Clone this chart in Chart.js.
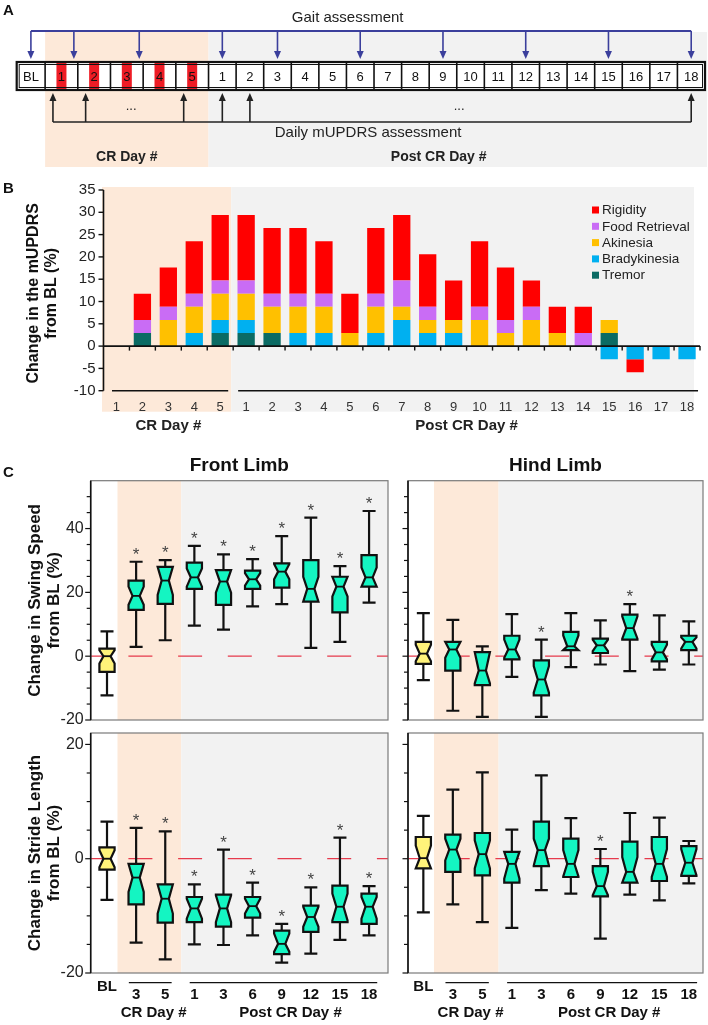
<!DOCTYPE html>
<html><head><meta charset="utf-8">
<script src="https://cdn.jsdelivr.net/npm/chart.js@4/dist/chart.umd.min.js"></script>
<style>
html,body{margin:0;padding:0;background:#fff;}
#wrap{position:relative;width:708px;height:1025px;overflow:hidden;background:#fff;}
canvas{position:absolute;}
</style></head><body>
<div id="wrap">
<canvas id="cA" width="708" height="170" style="left:0;top:0"></canvas>
<canvas id="cB" width="708" height="265" style="left:0;top:170px"></canvas>
<canvas id="cC1" width="395" height="290" style="left:0;top:435px"></canvas>
<canvas id="cC2" width="313" height="290" style="left:395px;top:435px"></canvas>
<canvas id="cC3" width="395" height="300" style="left:0;top:725px"></canvas>
<canvas id="cC4" width="313" height="300" style="left:395px;top:725px"></canvas>
</div>
<script>
// ================= DATA =================
// Panel A: schedule
const aCellLabels = ['BL','1','2','3','4','5','1','2','3','4','5','6','7','8','9','10','11','12','13','14','15','16','17','18'];
const aCrCells = [1,2,3,4,5];
const aGaitCells = [0,1,3,6,8,11,14,17,20,23];
const aDailyCells = [1,2,5,6,7,23];

// Panel B: stacked mUPDRS change (%)
const bDays = ['1','2','3','4','5','1','2','3','4','5','6','7','8','9','10','11','12','13','14','15','16','17','18'];
const bGroups = ['CR Day #','Post CR Day #'];
const bYTicks = [35,30,25,20,15,10,5,0,-5,-10];
const tremor       = [0,2.94,0,0,2.94, 2.94,2.94,0,0,0,0,0,0,0,0,0,0,0,0,2.94,0,0,0];
const bradykinesia = [0,0,0,2.94,2.94, 2.94,0,2.94,2.94,0,2.94,5.88,2.94,2.94,0,0,0,0,0,-2.94,-2.94,-2.94,-2.94];
const akinesia     = [0,0,5.88,5.88,5.88, 5.88,5.88,5.88,5.88,2.94,5.88,2.94,2.94,2.94,5.88,2.94,5.88,2.94,0,2.94,0,0,0];
const foodRetrieval= [0,2.94,2.94,2.94,2.94, 2.94,2.94,2.94,2.94,0,2.94,5.88,2.94,0,2.94,2.94,2.94,0,2.94,0,0,0,0];
const rigidity     = [0,5.88,8.82,11.76,14.71, 14.71,14.71,14.71,11.76,8.82,14.71,14.71,11.76,8.82,14.71,11.76,5.88,5.88,5.88,0,-2.94,0,0];

// Panel C: notched box plots, each box = [lowWhisker, q1, notchLo, median, notchHi, q3, highWhisker]
const cCategories = ['BL','3','5','1','3','6','9','12','15','18'];
const cGroups = ['CR Day #','Post CR Day #'];
const swingYLabels = [-20,0,20,40];
const strideYLabels = [-20,0,20];
const frontSwing = [
  [-12.3,-4.9,-2.3,0,1.9,2.4,7.8],
  [2.9,14.5,16.1,18.9,21.8,23.7,29.6],
  [5.0,16.4,19.2,23.7,28.0,28.0,30.1],
  [9.6,21.1,21.8,24.7,27.5,29.3,34.6],
  [8.3,16.1,19.9,23.4,27.0,27.0,31.9],
  [15.6,21.1,22.1,24.1,26.0,26.8,30.4],
  [16.3,21.5,24.1,26.5,28.9,29.1,37.6],
  [2.6,17.1,17.1,21.1,24.9,30.1,43.4],
  [4.5,13.7,18.7,21.8,24.9,24.9,28.2],
  [16.8,21.8,21.8,24.7,27.8,31.7,45.5]
];
const frontSwingSig = [0,1,1,1,1,1,1,1,1,1];
const hindSwing = [
  [-7.5,-2.4,-1.6,0.8,3.6,4.5,13.5],
  [-17.1,-4.5,-0.5,2.1,4.5,4.5,11.4],
  [-19.0,-9.1,-8.5,-4.5,1.3,1.3,3.1],
  [-6.5,-1.0,-0.5,2.1,5.2,6.4,13.2],
  [-19.0,-12.3,-11.4,-7.3,-3.1,-1.3,5.2],
  [-3.4,1.9,1.9,3.1,6.5,7.6,13.5],
  [-2.6,1.0,1.6,3.4,5.2,5.5,11.2],
  [-4.7,5.2,5.5,8.8,12.5,13.0,16.3],
  [-4.2,-1.6,-1.0,1.2,3.6,4.5,12.8],
  [-2.6,1.9,2.4,4.5,5.9,6.4,10.9]
];
const hindSwingSig = [0,0,0,0,1,0,0,1,0,0];
const frontStride = [
  [-7.2,-1.9,-1.5,0,1.5,2.0,6.5],
  [-14.7,-8.0,-5.8,-3.3,-0.9,-0.9,5.4],
  [-17.6,-11.2,-9.6,-7.0,-4.5,-4.5,4.8],
  [-15.0,-11.1,-10.5,-8.7,-7.0,-6.7,-4.5],
  [-15.1,-11.9,-11.1,-8.7,-6.4,-6.3,1.6],
  [-13.4,-10.3,-9.6,-8.3,-7.0,-6.7,-4.2],
  [-18.2,-16.7,-16.3,-14.9,-13.1,-12.6,-11.4],
  [-16.6,-12.8,-11.9,-10.2,-8.4,-8.2,-5.0],
  [-14.2,-11.1,-10.8,-8.4,-6.1,-4.7,3.7],
  [-13.4,-11.4,-10.5,-8.4,-6.7,-6.1,-4.8]
];
const frontStrideSig = [0,1,1,1,1,1,1,1,1,1];
const hindStride = [
  [-9.4,-1.7,-1.7,0.1,2.3,3.8,7.5],
  [-8.0,-2.3,-0.3,1.6,3.5,4.2,12.1],
  [-11.1,-2.9,-1.7,0.8,3.2,4.5,15.1],
  [-12.1,-4.2,-3.5,-0.9,1.2,1.2,5.1],
  [-5.5,-1.3,-1.2,1.5,3.5,6.5,14.6],
  [-6.1,-3.2,-3.1,-0.9,1.5,3.5,7.1],
  [-14.0,-6.6,-6.4,-4.8,-2.3,-1.3,1.7],
  [-6.3,-4.2,-4.2,-2.3,0.3,3.0,8.0],
  [-7.3,-3.9,-3.2,-0.9,1.7,3.8,7.2],
  [-4.3,-3.0,-2.9,-0.7,1.7,2.2,3.1]
];
const hindStrideSig = [0,0,0,0,0,0,1,0,0,0];

// ================= STYLE =================
const FONT = '"Liberation Sans", Arial, Helvetica, sans-serif';
const ORANGE = '#fde9d9', GRAY = '#f2f2f2';
const YELLOW = '#fff37a', TEAL = '#14f5c2';

function txt(ctx, s, x, y, size, opt={}) {
  ctx.save();
  ctx.font = (opt.bold ? 'bold ' : '') + size + 'px ' + FONT;
  ctx.fillStyle = opt.color || '#111';
  ctx.textAlign = opt.align || 'center';
  ctx.textBaseline = opt.base || 'middle';
  ctx.translate(x, y);
  if (opt.rot) ctx.rotate(opt.rot);
  ctx.fillText(s, 0, 0);
  ctx.restore();
}
function line(ctx, x1, y1, x2, y2, w, c) {
  ctx.save(); ctx.beginPath(); ctx.moveTo(x1, y1); ctx.lineTo(x2, y2);
  ctx.lineWidth = w; ctx.strokeStyle = c; ctx.stroke(); ctx.restore();
}
const baseOpts = (pad, xs, ys) => ({
  responsive: false, animation: false, events: [],
  layout: { padding: pad },
  plugins: { legend: { display: false }, tooltip: { enabled: false } },
  scales: { x: xs, y: ys }
});

// ================= PANEL A =================
const WBL = 1.03, WCR = 1.185;
function cellEdges(i) {
  if (i === 0) return [0, WBL];
  if (i <= 5) return [WBL + (i - 1) * WCR, WBL + i * WCR];
  const s = WBL + 5 * WCR + (i - 6);
  return [s, s + 1];
}
const A_TOTAL = cellEdges(aCellLabels.length - 1)[1];
function arrowX(i, kind) {
  const [l, r] = cellEdges(i);
  if (aCrCells.includes(i)) return l + (kind === 'gait' ? 0.88 : 0.24) * (r - l);
  return (l + r) / 2;
}
function arrow(ctx, x, y1, y2, color) {
  const dir = y2 > y1 ? 1 : -1;
  line(ctx, x, y1, x, y2 - dir * 6, 1.6, color);
  ctx.save(); ctx.fillStyle = color; ctx.beginPath();
  ctx.moveTo(x, y2); ctx.lineTo(x - 3.5, y2 - dir * 8); ctx.lineTo(x + 3.5, y2 - dir * 8); ctx.closePath(); ctx.fill(); ctx.restore();
}
const pA = { id: 'pA', afterDatasetsDraw(chart) {
  const ctx = chart.ctx, X = v => chart.scales.x.getPixelForValue(v), Y = v => chart.scales.y.getPixelForValue(v);
  const crL = cellEdges(1)[0], crR = cellEdges(5)[1];
  ctx.save();
  ctx.fillStyle = ORANGE; ctx.fillRect(X(crL), Y(32), X(crR) - X(crL), Y(167) - Y(32));
  ctx.fillStyle = GRAY; ctx.fillRect(X(crR), Y(32), X(A_TOTAL) + 2 - X(crR), Y(167) - Y(32));
  ctx.restore();
  const top = Y(62), bot = Y(90);
  ctx.save();
  ctx.fillStyle = '#ffffff';
  ctx.fillRect(X(0), top, X(A_TOTAL) - X(0), bot - top);
  ctx.restore();
  aCellLabels.forEach((lab, i) => {
    const [l, r] = cellEdges(i), L = X(l), R = X(r);
    if (aCrCells.includes(i)) {
      const c = (L + R) / 2;
      ctx.save(); ctx.fillStyle = '#ee1c25'; ctx.fillRect(c - 5, top, 10, bot - top); ctx.restore();
    }
    if (i > 0) line(ctx, L, top, L, bot, 1.6, '#111');
    txt(ctx, lab, (L + R) / 2, (top + bot) / 2 + 1, 13, { color: '#111' });
  });
  ctx.save(); ctx.strokeStyle = '#111'; ctx.lineWidth = 2.2;
  ctx.strokeRect(X(0), top, X(A_TOTAL) - X(0), bot - top);
  ctx.lineWidth = 1; ctx.strokeRect(X(0) + 2.5, top + 2.5, X(A_TOTAL) - X(0) - 5, bot - top - 5);
  ctx.restore();
  // gait arrows (blue)
  const blue = '#3b3f9c';
  const gx = aGaitCells.map(i => X(arrowX(i, 'gait')));
  line(ctx, gx[0], Y(31), gx[gx.length - 1], Y(31), 1.8, blue);
  gx.forEach(x => arrow(ctx, x, Y(31), Y(59), blue));
  // daily arrows (black)
  const dx = aDailyCells.map(i => X(arrowX(i, 'daily')));
  line(ctx, dx[0], Y(122), dx[dx.length - 1], Y(122), 1.6, '#222');
  dx.forEach(x => arrow(ctx, x, Y(122), Y(93), '#222'));
  txt(ctx, 'Gait assessment', X(12.0), Y(18), 15, { color: '#222' });
  txt(ctx, 'Daily mUPDRS assessment', X(12.74), Y(133), 15, { color: '#222' });
  txt(ctx, '...', X(4.15), Y(106), 13, { color: '#222' });
  txt(ctx, '...', X(16.04), Y(106), 13, { color: '#222' });
  txt(ctx, 'CR Day #', (X(crL) + X(crR)) / 2, Y(157), 14, { bold: true, color: '#222' });
  txt(ctx, 'Post CR Day #', X(15.3), Y(157), 14, { bold: true, color: '#222' });
  txt(ctx, 'A', 3, 11, 15, { bold: true, align: 'left' });
}};
new Chart(document.getElementById('cA'), {
  type: 'scatter',
  data: { datasets: [{ data: aCellLabels.map((l, i) => ({ x: (cellEdges(i)[0] + cellEdges(i)[1]) / 2, y: 76 })), pointRadius: 0, backgroundColor: 'rgba(0,0,0,0)', borderColor: 'rgba(0,0,0,0)' }] },
  options: baseOpts({ left: 16.7, right: 3, top: 0, bottom: 0 },
    { type: 'linear', display: false, min: 0, max: A_TOTAL },
    { type: 'linear', display: false, min: 0, max: 170, reverse: true }),
  plugins: [pA]
});

// ================= PANEL B =================
const pB = { id: 'pB',
  beforeDatasetsDraw(chart) {
    const ctx = chart.ctx, X = v => chart.scales.x.getPixelForValue(v), Y = v => chart.scales.y.getPixelForValue(v);
    const t = Y(35) - 3, b = Y(-10) + 21;
    ctx.save();
    ctx.fillStyle = ORANGE; ctx.fillRect(X(-0.5) - 1.5, t, X(4.5) - 2 - (X(-0.5) - 1.5), b - t);
    ctx.fillStyle = GRAY; ctx.fillRect(X(4.5) - 2, t, X(22.5) - 6 - (X(4.5) - 2), b - t);
    ctx.restore();
  },
  afterDatasetsDraw(chart) {
    const ctx = chart.ctx, X = v => chart.scales.x.getPixelForValue(v), Y = v => chart.scales.y.getPixelForValue(v);
    const ax = X(-0.5);
    line(ctx, ax, Y(35), ax, Y(-10), 1.6, '#111');
    bYTicks.forEach(v => { line(ctx, ax - 5, Y(v), ax, Y(v), 1.4, '#111');
      txt(ctx, String(v), ax - 8, Y(v), 15, { align: 'right', color: '#222' }); });
    line(ctx, ax, Y(0), X(22.5), Y(0), 1.8, '#111');
    for (let k = 0; k < bDays.length; k++) line(ctx, X(k + 0.5), Y(0), X(k + 0.5), Y(0) + 4.5, 1.4, '#111');
    bDays.forEach((d, i) => txt(ctx, d, X(i), Y(-10) + 17, 13, { color: '#333' }));
    line(ctx, ax + 8.5, Y(-10), X(4) + 8, Y(-10), 1.6, '#111');
    line(ctx, X(5) - 8, Y(-10), X(22) + 11, Y(-10), 1.6, '#111');
    txt(ctx, bGroups[0], X(2), Y(-10) + 35, 15, { bold: true, color: '#222' });
    txt(ctx, bGroups[1], X(13.5), Y(-10) + 35, 15, { bold: true, color: '#222' });
    txt(ctx, 'Change in the mUPDRS', 34, (Y(35) + Y(-10)) / 2 + 3, 16, { bold: true, rot: -Math.PI / 2 });
    txt(ctx, 'from BL (%)', 51.5, (Y(35) + Y(-10)) / 2 + 3, 16, { bold: true, rot: -Math.PI / 2 });
    txt(ctx, 'B', 3, 19, 15, { bold: true, align: 'left' });
    const ds = chart.data.datasets.slice().reverse();
    const lx = chart.chartArea.right - 108;
    ds.forEach((d, i) => {
      const ly = Y(35) + 20 + i * 16.3;
      ctx.save(); ctx.fillStyle = d.backgroundColor; ctx.fillRect(lx, ly - 3.5, 7, 7); ctx.restore();
      txt(ctx, d.label, lx + 10, ly + 0.5, 13.5, { align: 'left', color: '#222' });
    });
  }
};
new Chart(document.getElementById('cB'), {
  type: 'bar',
  data: { labels: bDays, datasets: [
    { label: 'Tremor', data: tremor, backgroundColor: '#0b6b64' },
    { label: 'Bradykinesia', data: bradykinesia, backgroundColor: '#00b0f0' },
    { label: 'Akinesia', data: akinesia, backgroundColor: '#ffc000' },
    { label: 'Food Retrieval', data: foodRetrieval, backgroundColor: '#c96cf5' },
    { label: 'Rigidity', data: rigidity, backgroundColor: '#ff0000' }
  ].map(d => Object.assign(d, { borderWidth: 0, barPercentage: 0.667, categoryPercentage: 1 })) },
  options: baseOpts({ left: 103.5, right: 8, top: 20, bottom: 44.3 },
    { type: 'category', display: false, stacked: true },
    { type: 'linear', display: false, stacked: true, min: -10, max: 35 }),
  plugins: [pB]
});

// ================= PANEL C =================
function boxChart(id, boxes, sig, o) {
  const plug = { id: 'box' + id,
    beforeDatasetsDraw(chart) {
      const ctx = chart.ctx, ca = chart.chartArea, X = v => chart.scales.x.getPixelForValue(v), Y = v => chart.scales.y.getPixelForValue(v);
      ctx.save();
      ctx.fillStyle = '#fff'; ctx.fillRect(ca.left, ca.top, ca.right - ca.left, ca.bottom - ca.top);
      ctx.fillStyle = ORANGE; ctx.fillRect(X(1.36), ca.top, X(3.55) - X(1.36), ca.bottom - ca.top);
      ctx.fillStyle = GRAY; ctx.fillRect(X(3.55), ca.top, ca.right - X(3.55), ca.bottom - ca.top);
      ctx.restore();
      ctx.save(); ctx.beginPath(); ctx.setLineDash([24, 25.7]); ctx.lineDashOffset = 12;
      ctx.moveTo(ca.left, Y(0)); ctx.lineTo(ca.right, Y(0));
      ctx.strokeStyle = '#e63a4c'; ctx.lineWidth = 1.2; ctx.stroke(); ctx.restore();
    },
    afterDatasetsDraw(chart) {
      const ctx = chart.ctx, ca = chart.chartArea, X = v => chart.scales.x.getPixelForValue(v), Y = v => chart.scales.y.getPixelForValue(v);
      boxes.forEach((b, i) => {
        const [mn, q1, nl, md, nh, q3, mx] = b;
        const cx = X(i + 1), hw = 7.6, ins = 4, cw = 6.5, L = cx - hw, R = cx + hw;
        ctx.save(); ctx.lineWidth = 2.2; ctx.strokeStyle = '#111'; ctx.lineJoin = 'miter';
        ctx.beginPath();
        ctx.moveTo(cx, Y(q3)); ctx.lineTo(cx, Y(mx)); ctx.moveTo(cx - cw, Y(mx)); ctx.lineTo(cx + cw, Y(mx));
        ctx.moveTo(cx, Y(q1)); ctx.lineTo(cx, Y(mn)); ctx.moveTo(cx - cw, Y(mn)); ctx.lineTo(cx + cw, Y(mn));
        ctx.stroke();
        ctx.beginPath();
        ctx.moveTo(L, Y(q1)); ctx.lineTo(L, Y(nl)); ctx.lineTo(L + ins, Y(md)); ctx.lineTo(L, Y(nh)); ctx.lineTo(L, Y(q3));
        ctx.lineTo(R, Y(q3)); ctx.lineTo(R, Y(nh)); ctx.lineTo(R - ins, Y(md)); ctx.lineTo(R, Y(nl)); ctx.lineTo(R, Y(q1));
        ctx.closePath();
        ctx.fillStyle = i === 0 ? YELLOW : TEAL; ctx.fill(); ctx.stroke();
        ctx.beginPath(); ctx.moveTo(L + ins, Y(md)); ctx.lineTo(R - ins, Y(md)); ctx.lineWidth = 1.8; ctx.stroke();
        ctx.restore();
        if (sig[i]) txt(ctx, '*', cx, Y(mx) - 2, 17, { base: 'alphabetic', color: '#444' });
      });
      ctx.save(); ctx.strokeStyle = '#7a7a7a'; ctx.lineWidth = 1.2;
      ctx.strokeRect(ca.left, ca.top, ca.right - ca.left, ca.bottom - ca.top); ctx.restore();
      line(ctx, ca.left, ca.top, ca.left, ca.bottom, 1.6, '#111');
      for (let v = o.tickMin; v <= o.tickMax; v += 5) {
        const major = o.yLabels.includes(v);
        line(ctx, ca.left - (major ? 5.5 : 4), Y(v), ca.left, Y(v), 1.2, '#111');
      }
      if (o.showYLabels) o.yLabels.forEach(v => txt(ctx, String(v), ca.left - 7, Y(v), 16, { align: 'right', color: '#222' }));
      if (o.yTitle) {
        const cy = (ca.top + ca.bottom) / 2;
        txt(ctx, o.yTitle, 35, cy, 17, { bold: true, rot: -Math.PI / 2 });
        txt(ctx, 'from BL (%)', 54, cy, 17, { bold: true, rot: -Math.PI / 2 });
      }
      if (o.title) txt(ctx, o.title, (ca.left + ca.right) / 2, ca.top - 14.5, 19, { bold: true });
      if (o.letter) txt(ctx, o.letter, 3, 38, 15, { bold: true, align: 'left' });
      if (o.showX) {
        const yb = Y(o.yMin);
        cCategories.forEach((c, i) => txt(ctx, c, X(i + 1), yb + (i === 0 ? 14 : 22), 15, { bold: true, color: '#111' }));
        line(ctx, X(1.75), yb + 9.7, X(3.22), yb + 9.7, 1.3, '#111');
        line(ctx, X(3.84), yb + 9.7, X(10.28), yb + 9.7, 1.3, '#111');
        txt(ctx, cGroups[0], X(2.6), yb + 40, 15, { bold: true, color: '#111' });
        txt(ctx, cGroups[1], X(7.3), yb + 40, 15, { bold: true, color: '#111' });
      }
    }
  };
  return new Chart(document.getElementById(id), {
    type: 'scatter',
    data: { datasets: [{ data: boxes.map((b, i) => ({ x: i + 1, y: b[3] })), pointRadius: 0 }] },
    options: baseOpts(o.pad,
      { type: 'linear', display: false, min: o.xMin, max: o.xMax },
      { type: 'linear', display: false, min: o.yMin, max: o.yMax }),
    plugins: [plug]
  });
}
boxChart('cC1', frontSwing, frontSwingSig, { pad: { left: 90.7, right: 7, top: 45.7, bottom: 5 }, xMin: 0.44, xMax: 10.65,
  yMin: -20, yMax: 55, tickMin: -20, tickMax: 50, yLabels: swingYLabels, showYLabels: true,
  yTitle: 'Change in Swing Speed', title: 'Front Limb', letter: 'C' });
boxChart('cC2', hindSwing, hindSwingSig, { pad: { left: 13, right: 5, top: 45.7, bottom: 5 }, xMin: 0.48, xMax: 10.48,
  yMin: -20, yMax: 55, tickMin: -20, tickMax: 50, yLabels: swingYLabels, showYLabels: false, title: 'Hind Limb' });
boxChart('cC3', frontStride, frontStrideSig, { pad: { left: 90.7, right: 7, top: 8, bottom: 52 }, xMin: 0.44, xMax: 10.65,
  yMin: -20, yMax: 22, tickMin: -20, tickMax: 20, yLabels: strideYLabels, showYLabels: true,
  yTitle: 'Change in Stride Length', showX: true });
boxChart('cC4', hindStride, hindStrideSig, { pad: { left: 13, right: 5, top: 8, bottom: 52 }, xMin: 0.48, xMax: 10.48,
  yMin: -20, yMax: 22, tickMin: -20, tickMax: 20, yLabels: strideYLabels, showYLabels: false, showX: true });
</script>
</body></html>
